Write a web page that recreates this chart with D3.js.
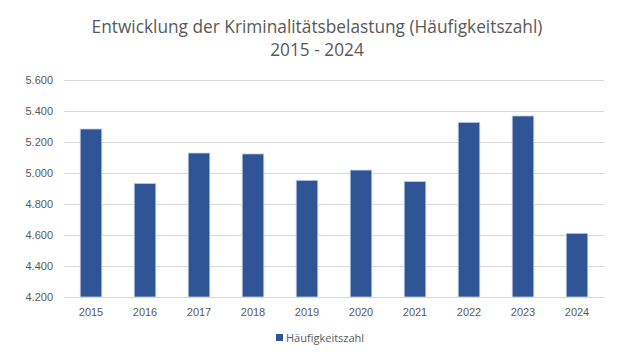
<!DOCTYPE html>
<html>
<head>
<meta charset="utf-8">
<script src="https://cdn.jsdelivr.net/npm/d3@7"></script>
<style>
  body { margin: 0; background: #fff; }
  svg { display: block; font-family: "Open Sans", "Liberation Sans", sans-serif; }
</style>
</head>
<body>
<svg width="635" height="354"></svg>
<script>
"use strict";
const years = ["2015", "2016", "2017", "2018", "2019", "2020", "2021", "2022", "2023", "2024"];
const values = [5284, 4933, 5129, 5123, 4953, 5019, 4946, 5327, 5368, 4611];
const yTicks = [4200, 4400, 4600, 4800, 5000, 5200, 5400, 5600];
const seriesName = "Häufigkeitszahl";

let svg = d3.select("svg");
let margin = {top: 80, right: 31, bottom: 57, left: 64};
let width = +svg.attr("width");
let height = +svg.attr("height");
let textColor = "#595959";
let barColor = "#2F5597";

let x = d3.scaleBand()
  .domain(years)
  .range([margin.left, width - margin.right])
  .paddingInner(0.6)
  .paddingOuter(0.3);
let y = d3.scaleLinear([4200, 5600], [height - margin.bottom, margin.top]);

// german grouping: 4.200
let fmtTick = d3.formatLocale({decimal: ",", thousands: ".", grouping: [3], currency: ["", "€"]}).format(",d");

// title
let title = svg.append("g")
    .attr("fill", textColor)
    .attr("text-anchor", "middle")
    .style("font-size", "17.3px");
title.append("text").attr("x", 317).attr("y", 33).text("Entwicklung der Kriminalitätsbelastung (Häufigkeitszahl)");
title.append("text").attr("x", 317).attr("y", 56).text("2015 - 2024");

// grid + y axis
let yAxis = d3.axisLeft(y)
  .tickValues(yTicks)
  .tickFormat(fmtTick)
  .tickSize(-(width - margin.left - margin.right))
  .tickPadding(11);
svg.append("g")
    .attr("transform", `translate(${margin.left},0)`)
    .call(yAxis)
    .call(g => g.select(".domain").remove())
    .call(g => g.selectAll(".tick line").attr("stroke", "#d9d9d9"))
    .call(g => g.selectAll(".tick text").attr("fill", textColor).style("font-size", "11px"));

// bars
svg.append("g")
  .selectAll("rect")
  .data(values)
  .join("rect")
    .attr("x", (d, i) => x(years[i]))
    .attr("y", d => y(d))
    .attr("width", x.bandwidth())
    .attr("height", d => y(4200) - y(d))
    .attr("fill", barColor)
    .attr("stroke", "#c9d3e6")
    .attr("stroke-width", 0.8);

// x axis
let xAxis = d3.axisBottom(x).tickSize(0).tickPadding(11);
svg.append("g")
    .attr("transform", `translate(0,${height - margin.bottom})`)
    .call(xAxis)
    .call(g => g.select(".domain").remove())
    .call(g => g.selectAll(".tick text").attr("fill", textColor).style("font-size", "11px"));

// legend
let legend = svg.append("g").attr("transform", "translate(276,341)");
legend.append("rect").attr("x", 0).attr("y", -7).attr("width", 7).attr("height", 7).attr("fill", barColor);
legend.append("text").attr("x", 10).attr("y", 0).attr("dy", "0.05em")
    .attr("fill", textColor).style("font-size", "11px").text(seriesName);
</script>
</body>
</html>
